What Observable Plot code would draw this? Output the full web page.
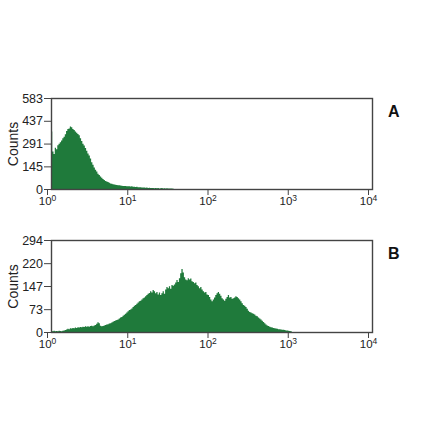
<!DOCTYPE html>
<html>
<head>
<meta charset="utf-8">
<script src="https://cdn.jsdelivr.net/npm/d3@7"></script>
<script src="https://cdn.jsdelivr.net/npm/@observablehq/plot@0.6"></script>
<style>
  html, body { margin: 0; padding: 0; background: #fff; }
  #wrap { position: relative; width: 440px; height: 441px; background: #fff; overflow: hidden; }
  #wrap > div { position: absolute; left: 0; }
</style>
</head>
<body>
<div id="wrap"><div id="pa" style="top:85px"></div><div id="pb" style="top:227px"></div></div>
<script>
// Histogram channels: 64 channels per decade, starting at 10^0
const channelsPerDecade = 64;
const countsA = [369,240,225,265,255,280,290,300,310,325,335,350,372,385,388,400,395,385,378,368,
  360,352,345,325,308,290,278,262,245,228,215,195,172,155,138,124,112,98,90,80,
  72,64,58,52,48,45,40,36,34,31,29,27,26,24,24,22,21,20,19,20,
  18,17,18,16,17,15,14,13,14,12,11,12,10,9,10,8,9,7,8,7,
  6,7,5,6,5,6,4,5,6,4,5,4,5,3,4,3,4,2,0];
const countsB = [3,2,4,2,3,2,4,3,2,4,5,6,8,
  10,9,12,11,13,12,14,13,15,14,16,15,17,16,18,17,
  18,17,19,20,18,21,22,26,31,28,20,18,19,
  21,22,24,25,27,28,30,33,35,37,38,40,43,46,48,52,55,
  58,62,66,70,72,75,80,84,86,90,94,98,100,104,108,110,
  114,118,122,125,130,126,134,130,124,128,120,126,118,124,130,122,
  136,144,140,146,138,150,148,152,158,166,160,172,188,201,
  190,175,168,165,172,168,171,162,160,156,158,150,146,140,144,136,
  130,126,128,120,118,112,104,98,104,110,118,124,128,122,116,108,
  104,100,106,112,118,110,112,106,108,110,114,112,108,104,
  98,92,86,84,80,74,68,64,62,60,58,56,52,50,46,43,
  40,36,32,28,24,21,19,17,15,14,13,12,11,10,9,9,
  8,7,7,6,5,5,4,3,2,0];
const yTicksA = [0, 145, 291, 437, 583];
const yTicksB = [0, 73, 147, 220, 294];
const xTicks = [1, 10, 100, 1000, 10000];
const xTickBase = "10";
const xTickExponents = ["0", "1", "2", "3", "4"];
const panelLabels = ["A", "B"];

const green = "#1f7a3b";
const font = "'Liberation Sans', Arial, sans-serif";

function toSteps(counts) {
  const pts = counts.map((c, i) => ({x: 10 ** (i / channelsPerDecade), y: c}));
  pts.push({x: 10 ** (counts.length / channelsPerDecade), y: 0});
  return pts;
}

function panel(counts, yTicks, label, h) {
  const svg = Plot.plot({
    width: 440,
    height: h,
    marginTop: 13,
    marginBottom: 25,
    marginLeft: 51,
    marginRight: 68,
    style: {fontFamily: font, fontSize: "12px", color: "#222", background: "#fff"},
    x: {type: "log", domain: [1, 10000]},
    y: {domain: [yTicks[0], yTicks[yTicks.length - 1]]},
    marks: [
      Plot.areaY(toSteps(counts), {x: "x", y: "y", curve: "step-after", fill: green}),
      Plot.frame({stroke: "#444", strokeWidth: 1.4}),
      Plot.axisY({ticks: yTicks, tickSize: 7, tickPadding: 1.5, fontSize: 12.5, tickFormat: d => String(d),
        label: null, stroke: "#444"}),
      Plot.text(["Counts"], {frameAnchor: "left", textAnchor: "middle", dx: -38, rotate: -90, fontSize: 14, fill: "#222", text: d => d}),
      Plot.axisX({ticks: xTicks, tickSize: 6, tickPadding: 1.5, dx: -4, fontSize: 11.5,
        tickFormat: d => xTickBase + "|" + xTickExponents[xTicks.indexOf(d)], label: null, stroke: "#444"}),
      Plot.text([label], {frameAnchor: "top-right", dx: 27, dy: 7, fontSize: 16, fontWeight: "bold", fill: "#111", text: d => d})
    ]
  });
  // render exponent as superscript
  svg.querySelectorAll('[aria-label="x-axis tick label"] text').forEach(t => {
    const [base, exp] = t.textContent.split("|");
    t.textContent = "";
    const b = document.createElementNS("http://www.w3.org/2000/svg", "tspan");
    b.textContent = base;
    const e = document.createElementNS("http://www.w3.org/2000/svg", "tspan");
    e.textContent = exp;
    e.setAttribute("font-size", "8.5");
    e.setAttribute("dy", "-0.45em");
    t.append(b, e);
  });
  return svg;
}

document.getElementById("pa").append(panel(countsA, yTicksA, panelLabels[0], 129));
document.getElementById("pb").append(panel(countsB, yTicksB, panelLabels[1], 130));
</script>
</body>
</html>
